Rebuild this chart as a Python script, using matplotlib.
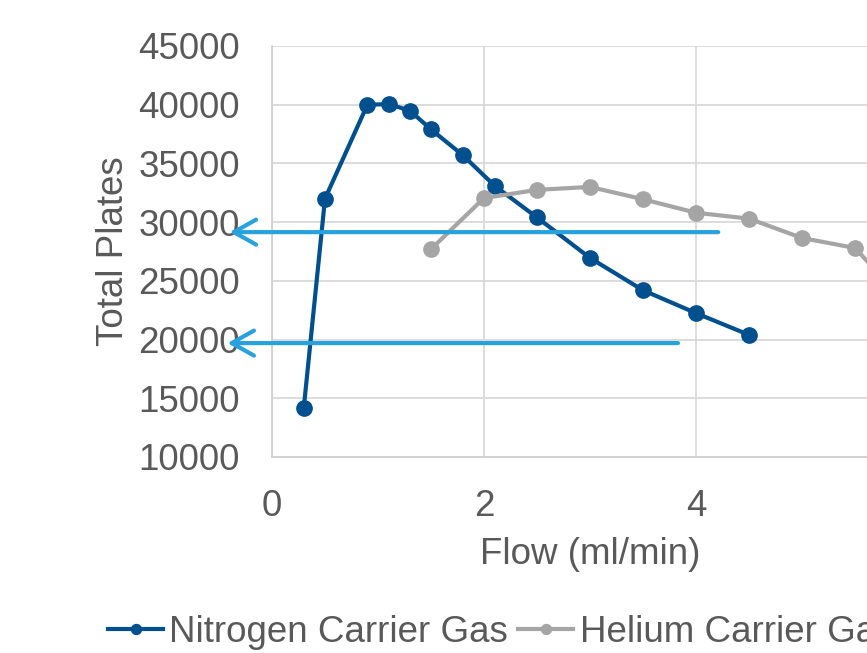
import matplotlib
matplotlib.use("Agg")
import matplotlib.pyplot as plt

# Data
n2_flow = [0.3, 0.5, 0.9, 1.1, 1.3, 1.5, 1.8, 2.1, 2.5, 3.0, 3.5, 4.0, 4.5]
n2_plates = [14200, 32000, 40000, 40050, 39500, 37900, 35700, 33100, 30400, 26950, 24200, 22250, 20400]
he_flow = [1.5, 2.0, 2.5, 3.0, 3.5, 4.0, 4.5, 5.0, 5.5, 6.0]
he_plates = [27700, 32050, 32750, 33000, 31950, 30800, 30300, 28650, 27800, 22900]
arrow_levels = [29150, 19700]
arrow_starts = [4.21, 3.83]
arrow_tips = [-0.40, -0.42]
x_ticks = [0, 2, 4, 6]
y_ticks = [10000, 15000, 20000, 25000, 30000, 35000, 40000, 45000]

plt.rcParams['font.family'] = ['Liberation Sans', 'DejaVu Sans']
text_c = '#595959'
fs = 26.5

fig = plt.figure(figsize=(8.67, 6.53), dpi=100)
ax = fig.add_axes([272/867, (653-457)/653, 636/867, 411/653])

ax.plot(n2_flow, n2_plates, '-o', color='#004F8E', lw=3, ms=11,
        label='Nitrogen Carrier Gas', zorder=3, clip_on=False)
ax.plot(he_flow, he_plates, '-o', color='#A5A5A5', lw=3, ms=11,
        label='Helium Carrier Gas', zorder=3, clip_on=False)

for lvl, xs, xt in zip(arrow_levels, arrow_starts, arrow_tips):
    ax.annotate('', xy=(xt, lvl), xytext=(xs, lvl),
                arrowprops=dict(arrowstyle='->, head_length=0.8, head_width=0.45',
                                color='#27A2DC', lw=3, mutation_scale=20,
                                shrinkA=0, shrinkB=0),
                annotation_clip=False, zorder=4)

ax.set_xlim(0, 6)
ax.set_ylim(10000, 45000)
ax.set_xticks(x_ticks)
ax.set_yticks(y_ticks)
ax.grid(True, color='#D9D9D9', lw=1.3)
ax.set_axisbelow(True)
for s in ['top', 'right']:
    ax.spines[s].set_visible(False)
for s in ['left', 'bottom']:
    ax.spines[s].set_color('#D0D0D0')
    ax.spines[s].set_linewidth(1.3)
ax.tick_params(length=0, labelsize=fs, labelcolor=text_c)
ax.tick_params(axis='x', pad=23)
ax.tick_params(axis='y', pad=23)

ax.set_xlabel('Flow (ml/min)', fontsize=fs, color=text_c)
ax.xaxis.set_label_coords(0.5, -0.195)
ax.set_ylabel('Total Plates', fontsize=fs, color=text_c)
ax.yaxis.set_label_coords(-0.222, 0.5)

fig.legend(loc='center left', bbox_to_anchor=(108/867, (653-632)/653),
           ncol=2, frameon=False, fontsize=fs, handlelength=1.5,
           handletextpad=0.17, columnspacing=0.27, markerscale=0.65,
           borderpad=0, borderaxespad=0, labelcolor=text_c)

fig.savefig('out.png', dpi=100)
